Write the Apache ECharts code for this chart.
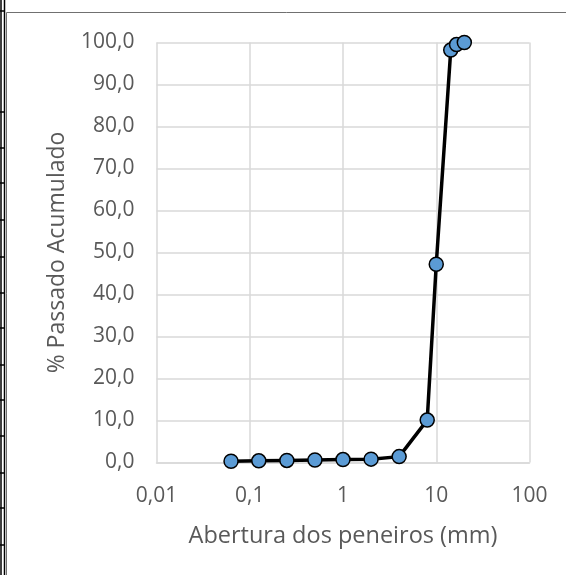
<!DOCTYPE html>
<html>
<head>
<meta charset="utf-8">
<script src="https://cdn.jsdelivr.net/npm/echarts@6/dist/echarts.min.js"></script>
<style>
  html, body { margin: 0; padding: 0; background: #fff; }
  #chart { width: 566px; height: 575px; }
</style>
</head>
<body>
<div id="chart"></div>
<script>
// Sieve openings (mm) and cumulative % passing
const aberturas = [0.063, 0.125, 0.25, 0.5, 1, 2, 4, 8, 10, 14.3, 16.5, 20];
const passado   = [0.3, 0.4, 0.5, 0.6, 0.7, 0.8, 1.4, 10.1, 47.2, 98.2, 99.5, 100.0];
const xTickLabels = { 0.01: '0,01', 0.1: '0,1', 1: '1', 10: '10', 100: '100' };
const xTitle = 'Abertura dos peneiros (mm)';
const yTitle = '% Passado Acumulado';

const font = '"Open Sans", "Liberation Sans", sans-serif';
const textColor = '#595959';
const gridColor = '#D9D9D9';

const chart = echarts.init(document.getElementById('chart'), null, { renderer: 'canvas' });

// spreadsheet-like frame decorations
const leftTicksY = [11, 112, 148, 183, 220, 257, 293, 328, 365, 400, 436, 473, 508, 545];
const graphics = [
  { type: 'line', shape: { x1: 6.5, y1: 12.5, x2: 566, y2: 12.5 }, style: { stroke: '#707070', lineWidth: 1 } },
  { type: 'line', shape: { x1: 6.5, y1: 12.5, x2: 6.5, y2: 575 }, style: { stroke: '#707070', lineWidth: 1 } },
  { type: 'line', shape: { x1: 1, y1: 0, x2: 1, y2: 575 }, style: { stroke: '#000', lineWidth: 1.5 } },
  { type: 'line', shape: { x1: 4.5, y1: 0, x2: 4.5, y2: 575 }, style: { stroke: '#000', lineWidth: 1.5 } }
];
leftTicksY.forEach(y => graphics.push({ type: 'line', shape: { x1: 0, y1: y, x2: 5, y2: y }, style: { stroke: '#000', lineWidth: 1.5 } }));

chart.setOption({
  animation: false,
  backgroundColor: '#fff',
  graphic: graphics,
  grid: { left: 156.5, right: 36.5, top: 42.5, bottom: 112.5, containLabel: false },
  xAxis: {
    type: 'log',
    logBase: 10,
    min: 0.01,
    max: 100,
    name: xTitle,
    nameLocation: 'middle',
    nameGap: 62,
    nameTextStyle: { color: textColor, fontSize: 23.5, fontFamily: font },
    axisLine: { show: true, lineStyle: { color: gridColor, width: 1.5 } },
    axisTick: { show: false },
    axisLabel: {
      color: textColor, fontSize: 21, fontFamily: font, margin: 23,
      formatter: v => xTickLabels[+v.toPrecision(3)] || String(v).replace('.', ',')
    },
    splitLine: { show: true, lineStyle: { color: gridColor, width: 1.5 } },
    minorTick: { show: false },
    minorSplitLine: { show: false }
  },
  yAxis: {
    type: 'value',
    min: 0,
    max: 100,
    interval: 10,
    name: yTitle,
    nameLocation: 'middle',
    nameGap: 88,
    nameTextStyle: { color: textColor, fontSize: 23, fontFamily: font },
    axisLine: { show: false },
    axisTick: { show: false },
    axisLabel: {
      color: textColor, fontSize: 21, fontFamily: font, margin: 22,
      formatter: v => v.toFixed(1).replace('.', ',')
    },
    splitLine: { show: true, lineStyle: { color: gridColor, width: 1.5 } }
  },
  series: [{
    type: 'line',
    data: aberturas.map((x, i) => [x, passado[i]]),
    symbol: 'circle',
    symbolSize: 14,
    lineStyle: { color: '#000', width: 3.5 },
    itemStyle: { color: '#5B9BD5', borderColor: '#000', borderWidth: 1.5 },
    z: 3
  }]
});
</script>
</body>
</html>
